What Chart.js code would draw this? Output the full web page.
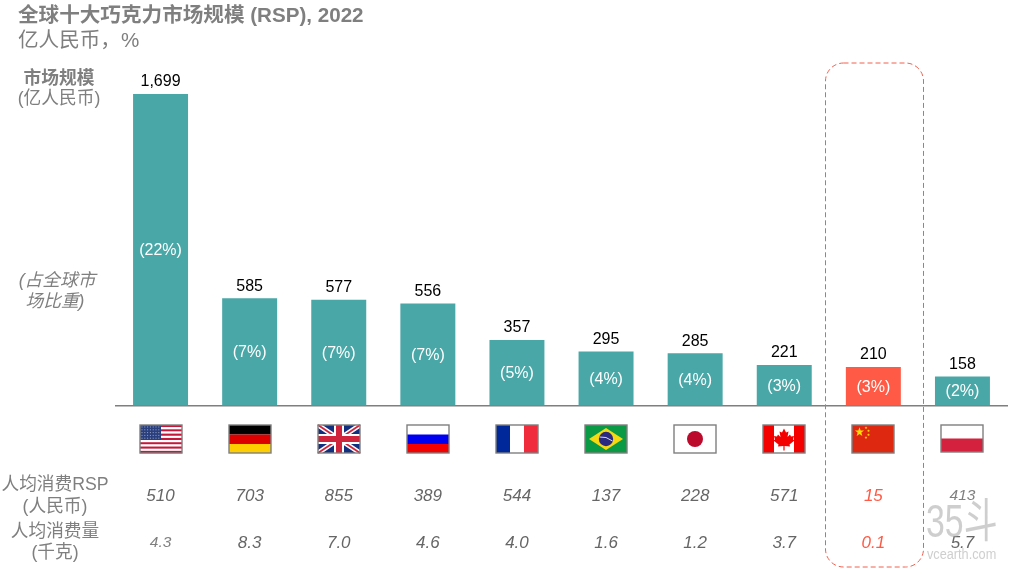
<!DOCTYPE html>
<html>
<head>
<meta charset="utf-8">
<style>
  html, body { margin: 0; padding: 0; background: #fff; }
  #wrap { width: 1011px; height: 574px; }
</style>
<script src="https://cdn.jsdelivr.net/npm/chart.js@4"></script>
</head>
<body>
<div id="wrap"><canvas id="myChart" width="1011" height="574"></canvas></div>
<script>
const categories = ['美国', '德国', '英国', '俄罗斯', '法国', '巴西', '日本', '加拿大', '中国', '波兰'];
const flagCodes = ['us', 'de', 'uk', 'ru', 'fr', 'br', 'jp', 'ca', 'cn', 'pl'];
const marketSize = [1699, 585, 577, 556, 357, 295, 285, 221, 210, 158];
const sizeLabels = ['1,699', '585', '577', '556', '357', '295', '285', '221', '210', '158'];
const shareLabels = ['(22%)', '(7%)', '(7%)', '(7%)', '(5%)', '(4%)', '(4%)', '(3%)', '(3%)', '(2%)'];
const rspPerCapita = ['510', '703', '855', '389', '544', '137', '228', '571', '15', '413'];
const kgPerCapita = ['4.3', '8.3', '7.0', '4.6', '4.0', '1.6', '1.2', '3.7', '0.1', '5.7'];

const TEAL = '#4aa7a7';
const RED = '#ff5a45';
const GREY = '#7f7f7f';
const FONT = '"Liberation Sans", "Noto Sans CJK SC", sans-serif';
const CHINA = 8;

function text(ctx, str, x, y, font, color, align) {
  ctx.font = font + ' ' + FONT;
  ctx.fillStyle = color;
  ctx.textAlign = align || 'center';
  ctx.textBaseline = 'middle';
  ctx.fillText(str, x, y);
}

function star(ctx, cx, cy, r, color) {
  ctx.fillStyle = color;
  ctx.beginPath();
  for (let i = 0; i < 10; i++) {
    const rad = i % 2 ? r * 0.4 : r;
    const a = -Math.PI / 2 + i * Math.PI / 5;
    ctx.lineTo(cx + rad * Math.cos(a), cy + rad * Math.sin(a));
  }
  ctx.closePath();
  ctx.fill();
}

// flags are drawn in a 42x28 box with its origin at the top left
const flags = {
  us(c) {
    for (let i = 0; i < 13; i++) {
      c.fillStyle = i % 2 ? '#fff' : '#c4173a';
      c.fillRect(0, i * 28 / 13, 42, 28 / 13 + 0.2);
    }
    c.fillStyle = '#2a3f7e';
    c.fillRect(0, 0, 21, 15);
    c.fillStyle = 'rgba(255,255,255,0.55)';
    for (let r = 0; r < 5; r++) {
      for (let k = 0; k < 7; k++) c.fillRect(1.5 + k * 2.8, 1.5 + r * 2.8, 1, 1);
    }
  },
  de(c) {
    c.fillStyle = '#000'; c.fillRect(0, 0, 42, 9.5);
    c.fillStyle = '#dd0000'; c.fillRect(0, 9.5, 42, 9.5);
    c.fillStyle = '#ffce00'; c.fillRect(0, 19, 42, 9);
  },
  uk(c) {
    c.fillStyle = '#12307f'; c.fillRect(0, 0, 42, 28);
    c.strokeStyle = '#fff'; c.lineWidth = 5;
    c.beginPath(); c.moveTo(0, 0); c.lineTo(42, 28); c.moveTo(42, 0); c.lineTo(0, 28); c.stroke();
    c.strokeStyle = '#d0243c'; c.lineWidth = 1.8;
    c.beginPath(); c.moveTo(0, 0); c.lineTo(42, 28); c.moveTo(42, 0); c.lineTo(0, 28); c.stroke();
    c.fillStyle = '#fff'; c.fillRect(16, 0, 10, 28); c.fillRect(0, 9, 42, 10);
    c.fillStyle = '#d0243c'; c.fillRect(18, 0, 6, 28); c.fillRect(0, 11, 42, 6);
  },
  ru(c) {
    c.fillStyle = '#fff'; c.fillRect(0, 0, 42, 9.5);
    c.fillStyle = '#0000f0'; c.fillRect(0, 9.5, 42, 9.5);
    c.fillStyle = '#f50000'; c.fillRect(0, 19, 42, 9);
  },
  fr(c) {
    c.fillStyle = '#00289a'; c.fillRect(0, 0, 14, 28);
    c.fillStyle = '#fff'; c.fillRect(14, 0, 14, 28);
    c.fillStyle = '#ef2b3c'; c.fillRect(28, 0, 14, 28);
  },
  br(c) {
    c.fillStyle = '#0a9a45'; c.fillRect(0, 0, 42, 28);
    c.fillStyle = '#f7d911';
    c.beginPath(); c.moveTo(21, 3); c.lineTo(38, 14); c.lineTo(21, 25); c.lineTo(4, 14); c.closePath(); c.fill();
    c.fillStyle = '#2a2a80';
    c.beginPath(); c.arc(21, 14, 7.2, 0, Math.PI * 2); c.fill();
    c.strokeStyle = '#d8d8ee'; c.lineWidth = 1;
    c.beginPath(); c.moveTo(14.5, 12); c.quadraticCurveTo(21, 11, 27.5, 16); c.stroke();
  },
  jp(c) {
    c.fillStyle = '#fff'; c.fillRect(0, 0, 42, 28);
    c.fillStyle = '#bc0a2d';
    c.beginPath(); c.arc(21, 14, 8, 0, Math.PI * 2); c.fill();
  },
  ca(c) {
    c.fillStyle = '#fff'; c.fillRect(0, 0, 42, 28);
    c.fillStyle = '#f50000';
    c.fillRect(0, 0, 11, 28); c.fillRect(31, 0, 11, 28);
    const leaf = [[21, 3.5], [23, 7.5], [25.5, 6.5], [24.5, 12], [27, 9.5], [28, 11.5], [31, 11], [30, 14.5], [31.5, 15.5], [26.5, 19.5], [27, 21.5], [21.6, 21], [21.6, 25.5], [20.4, 25.5], [20.4, 21], [15, 21.5], [15.5, 19.5], [10.5, 15.5], [12, 14.5], [11, 11], [14, 11.5], [15, 9.5], [17.5, 12], [16.5, 6.5], [19, 7.5]];
    c.beginPath();
    leaf.forEach(p => c.lineTo(p[0], p[1]));
    c.closePath();
    c.fill();
  },
  cn(c) {
    c.fillStyle = '#de2910'; c.fillRect(0, 0, 42, 28);
    star(c, 7.5, 7, 4.8, '#ffde00');
    star(c, 14, 2.8, 1.5, '#ffde00');
    star(c, 16.5, 5.8, 1.5, '#ffde00');
    star(c, 16.5, 9.8, 1.5, '#ffde00');
    star(c, 14, 12.6, 1.5, '#ffde00');
  },
  pl(c) {
    c.fillStyle = '#fff'; c.fillRect(0, 0, 42, 13.5);
    c.fillStyle = '#d4213d'; c.fillRect(0, 13.5, 42, 13.5);
  }
};

const overlayPlugin = {
  id: 'overlay',
  afterDatasetsDraw(chart) {
    const ctx = chart.ctx;
    const xScale = chart.scales.x;
    const bars = chart.getDatasetMeta(0).data;
    ctx.save();

    // titles and row headings
    text(ctx, '全球十大巧克力市场规模 (RSP), 2022', 18, 16, 'bold 20.6px', GREY, 'left');
    text(ctx, '亿人民币，%', 18, 41, '20.6px', GREY, 'left');
    text(ctx, '市场规模', 59, 79, 'bold 17.7px', GREY);
    text(ctx, '(亿人民币)', 59, 99, '17.7px', GREY);
    text(ctx, '(占全球市', 57, 281, 'italic 17.7px', GREY);
    text(ctx, '场比重)', 55, 302, 'italic 17.7px', GREY);
    text(ctx, '人均消费RSP', 55, 485, '17.7px', GREY);
    text(ctx, '(人民币)', 55, 507, '17.7px', GREY);
    text(ctx, '人均消费量', 55, 532, '17.7px', GREY);
    text(ctx, '(千克)', 55, 553, '17.7px', GREY);

    categories.forEach((name, i) => {
      const bar = bars[i];
      const x = xScale.getPixelForValue(i);
      text(ctx, sizeLabels[i], x, bar.y - 12, '16px', '#000');
      text(ctx, shareLabels[i], x, (bar.y + bar.base) / 2 + 1, '16px', '#fff');

      const small = name === '波兰';
      text(ctx, rspPerCapita[i], x, 496, 'italic ' + (small ? 15.5 : 17) + 'px', i === CHINA ? RED : (small ? GREY : '#666'));
      text(ctx, kgPerCapita[i], x, 543, 'italic ' + (i === 0 ? 15.5 : 17) + 'px', i === 0 ? GREY : (i === CHINA ? RED : '#666'));

      // flag below the axis
      ctx.save();
      ctx.translate(Math.round(x) - 21, 425);
      flags[flagCodes[i]](ctx);
      ctx.strokeStyle = GREY;
      ctx.lineWidth = 1.4;
      ctx.strokeRect(0, 0, 42, flagCodes[i] === 'pl' ? 27 : 28);
      ctx.restore();
    });

    // dashed highlight around China
    ctx.strokeStyle = '#f0604f';
    ctx.lineWidth = 1;
    ctx.setLineDash([5, 3]);
    ctx.beginPath();
    ctx.roundRect(825.5, 63, 98, 504, 18);
    ctx.stroke();
    ctx.setLineDash([]);

    // site watermark
    ctx.globalAlpha = 0.55;
    ctx.save();
    ctx.translate(926, 524);
    ctx.scale(0.72, 1);
    text(ctx, '35斗', 0, 0, '47px', '#a6a6a6', 'left');
    ctx.restore();
    ctx.save();
    ctx.translate(927, 555);
    ctx.scale(0.82, 1);
    text(ctx, 'vcearth.com', 0, 0, '15.5px', '#a6a6a6', 'left');
    ctx.restore();
    ctx.restore();
  }
};

new Chart(document.getElementById('myChart').getContext('2d'), {
  type: 'bar',
  data: {
    labels: categories,
    datasets: [{
      data: marketSize,
      backgroundColor: categories.map((c, i) => (i === CHINA ? RED : TEAL)),
      barPercentage: 0.617,
      categoryPercentage: 1
    }]
  },
  options: {
    responsive: false,
    animation: false,
    layout: { padding: { left: 116, right: 4, top: 94, bottom: 160.5 } },
    plugins: { legend: { display: false }, tooltip: { enabled: false } },
    scales: {
      x: {
        grid: { display: false },
        ticks: { display: false },
        border: { color: GREY, width: 1.5 }
      },
      y: { display: false, min: 0, max: 1699 }
    }
  },
  plugins: [overlayPlugin]
});
</script>
</body>
</html>
